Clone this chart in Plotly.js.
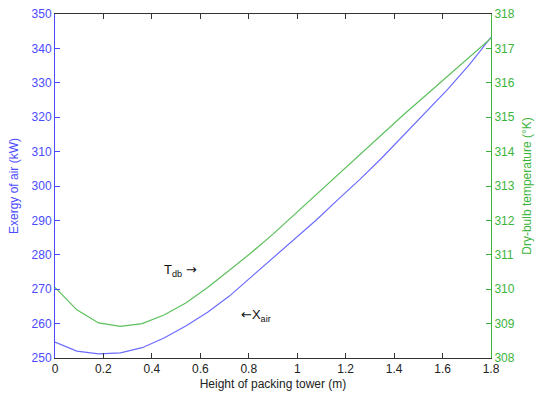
<!DOCTYPE html>
<html>
<head>
<meta charset="utf-8">
<script src="https://cdn.plot.ly/plotly-3.0.1.min.js"></script>
<style>html,body{margin:0;padding:0;background:#fff;}#chart{width:535px;height:402px;}</style>
</head>
<body>
<div id="chart"></div>
<script>
const height = [0, 0.09, 0.18, 0.27, 0.36, 0.45, 0.54, 0.63, 0.72, 0.81, 0.90, 0.99, 1.08, 1.17, 1.26, 1.35, 1.44, 1.53, 1.62, 1.71, 1.80];
const exergyAir = [254.6, 252.0, 251.2, 251.5, 253.0, 255.8, 259.3, 263.3, 268.0, 273.6, 279.0, 284.6, 290.2, 296.2, 302.0, 308.2, 314.8, 321.2, 328.0, 335.2, 343.2];
const dryBulbT = [310.05, 309.4, 309.02, 308.92, 309.0, 309.25, 309.6, 310.05, 310.55, 311.06, 311.6, 312.18, 312.77, 313.35, 313.93, 314.5, 315.08, 315.63, 316.18, 316.75, 317.3];

const blue = '#4a4aff';
const green = '#3cb43c';
const font = 'Liberation Sans, Arial, sans-serif';
const arrowFont = 'DejaVu Sans';

const traces = [
  {x: height, y: exergyAir, type: 'scatter', mode: 'lines', line: {color: '#6c6cff', width: 1.2}, yaxis: 'y', name: 'Xair'},
  {x: height, y: dryBulbT, type: 'scatter', mode: 'lines', line: {color: '#5cc05c', width: 1.2}, yaxis: 'y2', name: 'Tdb'}
];

const layout = {
  width: 535, height: 402,
  margin: {l: 55, r: 44, t: 14, b: 44, pad: 0},
  paper_bgcolor: '#fff', plot_bgcolor: '#fff',
  showlegend: false,
  font: {family: font, size: 12, color: '#222'},
  xaxis: {
    range: [0, 1.8], dtick: 0.2, tick0: 0,
    showgrid: false, zeroline: false,
    showline: true, linecolor: '#333', linewidth: 1, mirror: 'ticks',
    ticks: 'inside', ticklen: 5, tickcolor: '#333',
    tickfont: {family: font, size: 12, color: '#222'},
    title: {text: 'Height of packing tower (m)', font: {family: font, size: 12, color: '#222'}, standoff: 4}
  },
  yaxis: {
    range: [250, 350], dtick: 10,
    showgrid: false, zeroline: false,
    showline: true, linecolor: blue, linewidth: 1,
    ticks: 'inside', ticklen: 5, tickcolor: blue,
    tickfont: {family: font, size: 12, color: blue},
    title: {text: 'Exergy of air (kW)', font: {family: font, size: 12, color: blue}, standoff: 10}
  },
  yaxis2: {
    range: [308, 318], dtick: 1,
    overlaying: 'y', side: 'right', anchor: 'x',
    showgrid: false, zeroline: false,
    showline: true, linecolor: green, linewidth: 1,
    ticks: 'inside', ticklen: 5, tickcolor: green,
    tickfont: {family: font, size: 12, color: green},
    title: {text: 'Dry-bulb temperature (°K)', font: {family: font, size: 12, color: green}, standoff: 8}
  },
  annotations: [
    {x: 0.52, y: 275.5, xref: 'x', yref: 'y', text: 'T<sub>db</sub> <span style="font-family:' + arrowFont + '">→</span>', showarrow: false, font: {family: font, size: 13, color: '#111'}},
    {x: 0.83, y: 262.5, xref: 'x', yref: 'y', text: '<span style="font-family:' + arrowFont + '">←</span>X<sub>air</sub>', showarrow: false, font: {family: font, size: 13, color: '#111'}}
  ]
};

Plotly.newPlot('chart', traces, layout, {displayModeBar: false, staticPlot: true});
</script>
</body>
</html>
